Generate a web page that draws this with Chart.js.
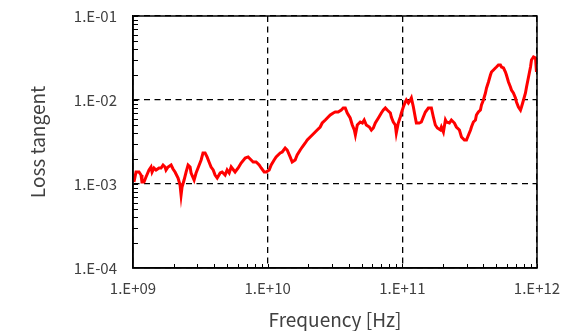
<!DOCTYPE html>
<html>
<head>
<meta charset="utf-8">
<script src="https://cdn.jsdelivr.net/npm/chart.js@4"></script>
<style>
  html, body { margin: 0; padding: 0; background: #fff; }
  #chart { display: block; }
</style>
</head>
<body>
<canvas id="chart" width="577" height="331"></canvas>
<script>
// frequency [Hz] and loss tangent
const freqHz = [
  1.017e9, 1.053e9, 1.108e9, 1.147e9, 1.166e9, 1.207e9, 1.249e9, 1.315e9, 1.361e9, 1.385e9,
  1.432e9, 1.483e9, 1.561e9, 1.616e9, 1.672e9, 1.730e9, 1.759e9, 1.821e9, 1.918e9, 1.983e9,
  2.052e9, 2.161e9, 2.236e9, 2.275e9, 2.313e9, 2.395e9, 2.478e9, 2.564e9, 2.654e9, 2.70e9,
  2.843e9, 2.94e9, 3.04e9, 3.206e9, 3.31e9, 3.43e9, 3.548e9, 3.67e9, 3.80e9, 3.94e9,
  4.07e9, 4.22e9, 4.44e9, 4.59e9, 4.83e9, 5.00e9, 5.18e9, 5.36e9, 5.73e9, 6.04e9,
  6.35e9, 6.81e9, 7.16e9, 7.54e9, 7.80e9, 8.21e9, 8.65e9, 8.95e9, 9.42e9, 9.75e9,
  1.026e10, 1.062e10, 1.117e10, 1.156e10, 1.239e10, 1.282e10, 1.349e10, 1.396e10, 1.469e10, 1.521e10,
  1.60e10, 1.656e10, 1.745e10, 1.806e10, 1.901e10, 1.968e10, 2.07e10, 2.143e10, 2.255e10, 2.333e10,
  2.455e10, 2.541e10, 2.68e10, 2.77e10, 2.917e10, 3.07e10, 3.177e10, 3.34e10, 3.52e10, 3.64e10,
  3.77e10, 3.90e10, 4.10e10, 4.25e10, 4.40e10, 4.48e10, 4.63e10, 4.87e10, 5.05e10, 5.21e10,
  5.40e10, 5.69e10, 5.89e10, 6.09e10, 6.30e10, 6.64e10, 6.98e10, 7.23e10, 7.48e10, 7.73e10,
  8.15e10, 8.28e10, 8.57e10, 8.87e10, 9.02e10, 9.33e10, 9.66e10, 9.84e10, 1.017e11, 1.052e11,
  1.071e11, 1.109e11, 1.147e11, 1.167e11, 1.208e11, 1.25e11, 1.271e11, 1.337e11, 1.384e11, 1.432e11,
  1.483e11, 1.56e11, 1.643e11, 1.70e11, 1.758e11, 1.82e11, 1.917e11, 1.95e11, 2.018e11, 2.089e11,
  2.125e11, 2.236e11, 2.314e11, 2.437e11, 2.52e11, 2.654e11, 2.748e11, 2.89e11, 2.994e11, 3.10e11,
  3.21e11, 3.26e11, 3.37e11, 3.49e11, 3.55e11, 3.67e11, 3.80e11, 3.87e11, 4.00e11, 4.14e11,
  4.22e11, 4.36e11, 4.51e11, 4.59e11, 4.75e11, 4.91e11, 5.00e11, 5.17e11, 5.35e11, 5.45e11,
  5.64e11, 5.83e11, 5.93e11, 6.14e11, 6.35e11, 6.46e11, 6.68e11, 6.92e11, 7.04e11, 7.28e11,
  7.54e11, 7.67e11, 7.94e11, 8.21e11, 8.36e11, 8.65e11, 8.95e11, 9.10e11, 9.42e11, 9.75e11,
  9.91e11
];
const lossTangent = [
  1.056e-3, 1.389e-3, 1.39e-3, 1.28e-3, 1.056e-3, 1.056e-3, 1.211e-3, 1.468e-3, 1.594e-3, 1.389e-3,
  1.551e-3, 1.468e-3, 1.551e-3, 1.551e-3, 1.684e-3, 1.594e-3, 1.468e-3, 1.594e-3, 1.684e-3, 1.509e-3,
  1.389e-3, 1.179e-3, 0.973e-3, 0.740e-3, 0.921e-3, 1.116e-3, 1.389e-3, 1.684e-3, 1.594e-3, 1.352e-3,
  1.116e-3, 1.352e-3, 1.551e-3, 1.931e-3, 2.34e-3, 2.34e-3, 2.10e-3, 1.828e-3, 1.594e-3, 1.468e-3,
  1.28e-3, 1.179e-3, 1.352e-3, 1.389e-3, 1.28e-3, 1.468e-3, 1.352e-3, 1.594e-3, 1.389e-3, 1.551e-3,
  1.778e-3, 2.04e-3, 2.10e-3, 1.931e-3, 1.828e-3, 1.828e-3, 1.684e-3, 1.551e-3, 1.389e-3, 1.389e-3,
  1.468e-3, 1.684e-3, 1.931e-3, 2.10e-3, 2.34e-3, 2.405e-3, 2.683e-3, 2.54e-3, 2.10e-3, 1.828e-3,
  1.931e-3, 2.214e-3, 2.54e-3, 2.757e-3, 3.077e-3, 3.34e-3, 3.627e-3, 3.83e-3, 4.16e-3, 4.395e-3,
  4.77e-3, 5.32e-3, 5.78e-3, 6.11e-3, 6.63e-3, 7.0e-3, 7.2e-3, 7.2e-3, 7.6e-3, 8.03e-3,
  8.03e-3, 7.0e-3, 6.11e-3, 5.04e-3, 4.39e-3, 3.83e-3, 5.04e-3, 5.47e-3, 5.32e-3, 5.78e-3,
  5.04e-3, 4.77e-3, 4.39e-3, 4.64e-3, 5.32e-3, 6.11e-3, 7.0e-3, 7.6e-3, 8.03e-3, 7.6e-3,
  7.0e-3, 6.28e-3, 5.47e-3, 5.04e-3, 4.05e-3, 5.32e-3, 6.28e-3, 7.0e-3, 8.26e-3, 9.47e-3,
  1.0e-2, 9.21e-3, 1.0e-2, 1.056e-2, 8.26e-3, 6.11e-3, 5.32e-3, 5.32e-3, 5.47e-3, 6.28e-3,
  7.2e-3, 8.03e-3, 8.03e-3, 6.28e-3, 5.04e-3, 4.64e-3, 4.39e-3, 4.77e-3, 4.16e-3, 5.78e-3,
  5.47e-3, 5.32e-3, 5.78e-3, 5.32e-3, 4.77e-3, 4.39e-3, 3.63e-3, 3.34e-3, 3.34e-3, 3.83e-3,
  4.39e-3, 4.77e-3, 5.47e-3, 5.78e-3, 6.63e-3, 7.2e-3, 7.6e-3, 8.72e-3, 1.0e-2, 1.211e-2,
  1.389e-2, 1.638e-2, 1.984e-2, 2.155e-2, 2.277e-2, 2.405e-2, 2.47e-2, 2.61e-2, 2.61e-2, 2.47e-2,
  2.405e-2, 2.155e-2, 1.984e-2, 1.638e-2, 1.428e-2, 1.315e-2, 1.211e-2, 1.056e-2, 9.47e-3, 8.26e-3,
  7.6e-3, 8.26e-3, 1.0e-2, 1.211e-2, 1.428e-2, 1.878e-2, 2.47e-2, 2.993e-2, 3.25e-2, 3.16e-2,
  2.155e-2
];
const xTicks = [1e9, 1e10, 1e11, 1e12];
const yTicks = [1e-4, 1e-3, 1e-2, 1e-1];
const xTitle = 'Frequency [Hz]';
const yTitle = 'Loss tangent';

const fontFamily = '"Noto Sans CJK JP", "Noto Sans", sans-serif';
const textColor = '#404040';

// 1.E+09 style labels like the spreadsheet
function sciLabel(v) {
  const e = Math.round(Math.log10(v));
  const s = e < 0 ? '-' : '+';
  return '1.E' + s + String(Math.abs(e)).padStart(2, '0');
}

// box around the plot and small inward minor ticks
const frameAndMinor = {
  id: 'frameAndMinor',
  afterDraw(chart) {
    const ctx = chart.ctx;
    const a = chart.chartArea;
    const xs = chart.scales.x, ys = chart.scales.y;
    ctx.save();
    ctx.strokeStyle = '#000';
    ctx.lineWidth = 1;
    ctx.beginPath();
    for (let d = 0; d < xTicks.length - 1; d++) {
      for (let k = 2; k <= 10; k++) {
        const px = Math.round(xs.getPixelForValue(xTicks[d] * k)) + 0.5;
        ctx.moveTo(px, a.bottom);
        ctx.lineTo(px, a.bottom - 4);
      }
    }
    for (let d = 0; d < yTicks.length - 1; d++) {
      for (let k = 2; k <= 10; k++) {
        const py = Math.round(ys.getPixelForValue(yTicks[d] * k)) + 0.5;
        ctx.moveTo(a.left, py);
        ctx.lineTo(a.left + 5, py);
      }
    }
    ctx.stroke();
    ctx.lineWidth = 1.5;
    ctx.strokeRect(a.left, a.top, a.right - a.left, a.bottom - a.top);
    ctx.restore();
  }
};

const ctx = document.getElementById('chart');
new Chart(ctx, {
  type: 'line',
  data: {
    datasets: [{
      data: freqHz.map((f, i) => ({ x: f, y: lossTangent[i] })),
      borderColor: '#ff0000',
      borderWidth: 3,
      pointRadius: 0,
      tension: 0,
      fill: false
    }]
  },
  options: {
    responsive: false,
    animation: false,
    devicePixelRatio: 1,
    layout: { padding: { top: 16, right: 40, left: 0, bottom: 0 } },
    plugins: { legend: { display: false }, tooltip: { enabled: false } },
    scales: {
      x: {
        type: 'logarithmic',
        min: 1e9,
        max: 1e12,
        afterBuildTicks: (s) => { s.ticks = xTicks.map(v => ({ value: v })); },
        afterFit: (s) => { s.height = 63; s.paddingLeft = 0; s.paddingRight = 0; },
        ticks: {
          callback: (v) => sciLabel(v),
          color: textColor,
          font: { family: fontFamily, size: 15 },
          padding: 11,
          maxRotation: 0,
          autoSkip: false
        },
        grid: { color: '#000', lineWidth: 1.3, drawTicks: false },
        border: { display: true, color: '#000', width: 1.5, dash: [6, 4.5] },
        title: {
          display: true,
          text: xTitle,
          color: textColor,
          font: { family: fontFamily, size: 19 },
          padding: { top: 4, bottom: 0 }
        }
      },
      y: {
        type: 'logarithmic',
        min: 1e-4,
        max: 1e-1,
        afterBuildTicks: (s) => { s.ticks = yTicks.map(v => ({ value: v })); },
        afterFit: (s) => { s.width = 133; s.paddingTop = 0; s.paddingBottom = 0; },
        ticks: {
          callback: (v) => sciLabel(v),
          color: textColor,
          font: { family: fontFamily, size: 15 },
          padding: 16,
          autoSkip: false
        },
        grid: { color: '#000', lineWidth: 1.3, drawTicks: false },
        border: { display: true, color: '#000', width: 1.5, dash: [6, 4.5] },
        title: {
          display: true,
          text: yTitle,
          color: textColor,
          font: { family: fontFamily, size: 19 },
          padding: { top: 26, bottom: 0 }
        }
      }
    }
  },
  plugins: [frameAndMinor]
});
</script>
</body>
</html>
